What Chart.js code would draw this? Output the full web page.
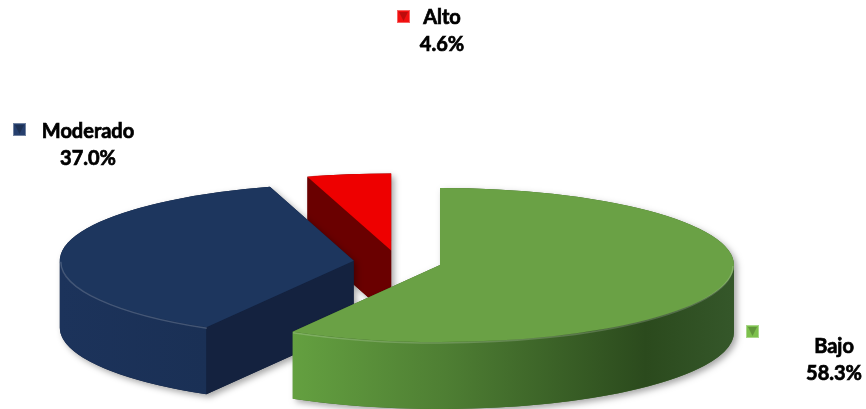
<!DOCTYPE html>
<html>
<head>
<meta charset="utf-8">
<script src="https://cdn.jsdelivr.net/npm/chart.js@4/dist/chart.umd.min.js"></script>
<style>
  html, body { margin: 0; padding: 0; background: #fff; }
</style>
</head>
<body>
<canvas id="myChart" width="866" height="409"></canvas>
<script>
const categories = ['Bajo', 'Moderado', 'Alto'];
const percentages = [58.3, 37.0, 4.6];

const topColors = ['#6aa145', '#1d365e', '#ee0000'];
const keyColors = ['#7cc04c', '#263f6e', '#f21010'];

// side faces: [outer curved side gradient stops, flat cut face colour]
const sideStyles = [
  { outer: [[0, '#64a040'], [0.35, '#4e7e33'], [0.8, '#2b4a1d'], [1, '#35572a']], cut: '#3d6328' },
  { outer: [[0, '#1c335b'], [1, '#1a3055']], cut: '#14223f' },
  { outer: [[0, '#8a0000'], [1, '#700000']], cut: '#6a0000' }
];

function sectorPath(ctx, s, dy) {
  ctx.moveTo(s.cx, s.cy + dy);
  ctx.ellipse(s.cx, s.cy + dy, s.rx, s.ry, 0, s.a0, s.a1);
  ctx.closePath();
}

const pie3d = {
  id: 'pie3d',
  beforeDatasetsDraw: (chart, args, opts) => {
    const { ctx } = chart;
    const k = opts.tilt, h = opts.depth, d = opts.explode;
    const arcs = chart.getDatasetMeta(0).data;

    const slices = arcs.map((arc, i) => {
      const p = arc.getProps(['x', 'y', 'startAngle', 'endAngle', 'outerRadius'], true);
      const mid = (p.startAngle + p.endAngle) / 2;
      return {
        i,
        cx: p.x + Math.cos(mid) * d,
        cy: p.y + Math.sin(mid) * d * k,
        rx: p.outerRadius,
        ry: p.outerRadius * k,
        a0: p.startAngle,
        a1: p.endAngle
      };
    });
    const order = slices.slice().sort((a, b) => a.cy - b.cy);

    // silhouettes with shadow + side faces
    order.forEach(s => {
      const st = sideStyles[s.i];
      ctx.save();
      ctx.beginPath();
      for (let t = 0; t <= h; t += 1) sectorPath(ctx, s, t);
      ctx.shadowColor = 'rgba(0,0,0,0.35)';
      ctx.shadowBlur = 6;
      ctx.shadowOffsetX = 3;
      ctx.shadowOffsetY = 3;
      ctx.fillStyle = st.cut;
      ctx.fill();
      ctx.restore();

      // outer curved side (front half only)
      const s0 = Math.max(s.a0, 0), s1 = Math.min(s.a1, Math.PI);
      if (s1 > s0) {
        const xl = s.cx + s.rx * Math.min(Math.cos(s0), Math.cos(s1), s1 >= Math.PI ? -1 : 1);
        const xr = s.cx + s.rx * Math.max(Math.cos(s0), Math.cos(s1), s0 <= 0 ? 1 : -1);
        const g = ctx.createLinearGradient(xl, 0, xr, 0);
        st.outer.forEach(([o, c]) => g.addColorStop(o, c));
        ctx.beginPath();
        ctx.ellipse(s.cx, s.cy, s.rx, s.ry, 0, s0, s1);
        ctx.ellipse(s.cx, s.cy + h, s.rx, s.ry, 0, s1, s0, true);
        ctx.closePath();
        ctx.fillStyle = g;
        ctx.fill();
      }

      // flat cut faces
      const cutFace = (a) => {
        const px = s.cx + s.rx * Math.cos(a), py = s.cy + s.ry * Math.sin(a);
        ctx.beginPath();
        ctx.moveTo(s.cx, s.cy);
        ctx.lineTo(px, py);
        ctx.lineTo(px, py + h);
        ctx.lineTo(s.cx, s.cy + h);
        ctx.closePath();
        ctx.fillStyle = st.cut;
        ctx.fill();
      };
      if (Math.cos(s.a0) < -0.01) cutFace(s.a0);
      if (Math.cos(s.a1) > 0.01) cutFace(s.a1);
    });

    // top faces
    order.forEach(s => {
      ctx.beginPath();
      sectorPath(ctx, s, 0);
      ctx.fillStyle = topColors[s.i];
      ctx.fill();
      const s0 = Math.max(s.a0, 0), s1 = Math.min(s.a1, Math.PI);
      if (s1 > s0) {
        ctx.beginPath();
        ctx.ellipse(s.cx, s.cy + 1, s.rx - 1, s.ry, 0, s0, s1);
        ctx.strokeStyle = 'rgba(255,255,255,0.18)';
        ctx.lineWidth = 1.5;
        ctx.stroke();
      }
    });
    return false;
  }
};

function drawKey(ctx, x, y, size, color) {
  ctx.fillStyle = color;
  ctx.fillRect(x, y, size, size);
  ctx.fillStyle = 'rgba(0,0,0,0.22)';
  ctx.beginPath();
  ctx.moveTo(x + 2, y + 2);
  ctx.lineTo(x + size - 2, y + 2);
  ctx.lineTo(x + size / 2, y + size - 2);
  ctx.closePath();
  ctx.fill();
  ctx.strokeStyle = 'rgba(255,255,255,0.35)';
  ctx.lineWidth = 1;
  ctx.strokeRect(x + 0.5, y + 0.5, size - 1, size - 1);
}

const sliceLabels = {
  id: 'sliceLabels',
  afterDraw: (chart, args, opts) => {
    const { ctx } = chart;
    const ds = chart.data.datasets[0];
    chart.data.labels.forEach((label, i) => {
      const spot = opts.spots[i];
      drawKey(ctx, spot.kx, spot.ky, opts.keySize, keyColors[i]);
      ctx.fillStyle = opts.color;
      ctx.strokeStyle = opts.color;
      ctx.lineWidth = 0.7;
      ctx.font = opts.font;
      ctx.textAlign = 'center';
      ctx.textBaseline = 'alphabetic';
      const val = ds.data[i].toFixed(1) + '%';
      ctx.fillText(label, spot.x, spot.y);
      ctx.strokeText(label, spot.x, spot.y);
      ctx.fillText(val, spot.x, spot.y + opts.lineHeight);
      ctx.strokeText(val, spot.x, spot.y + opts.lineHeight);
    });
  }
};

const config = {
  type: 'pie',
  data: {
    labels: categories,
    datasets: [{
      data: percentages,
      backgroundColor: topColors,
      radius: 294
    }]
  },
  options: {
    responsive: false,
    animation: false,
    events: [],
    layout: {
      padding: { top: 115, right: 71, left: 0, bottom: 0 }
    },
    plugins: {
      legend: { display: false },
      tooltip: { enabled: false },
      pie3d: { tilt: 0.262, depth: 67, explode: 44 },
      sliceLabels: {
        font: 'bold 20px Lato, "Open Sans", sans-serif',
        color: '#000',
        lineHeight: 27,
        keySize: 13,
        spots: [
          { kx: 746, ky: 325, x: 834, y: 353 },
          { kx: 13, ky: 123, x: 88, y: 138 },
          { kx: 397, ky: 10, x: 442, y: 24 }
        ]
      }
    }
  },
  plugins: [pie3d, sliceLabels]
};

const myChart = new Chart(document.getElementById('myChart'), config);
</script>
</body>
</html>
